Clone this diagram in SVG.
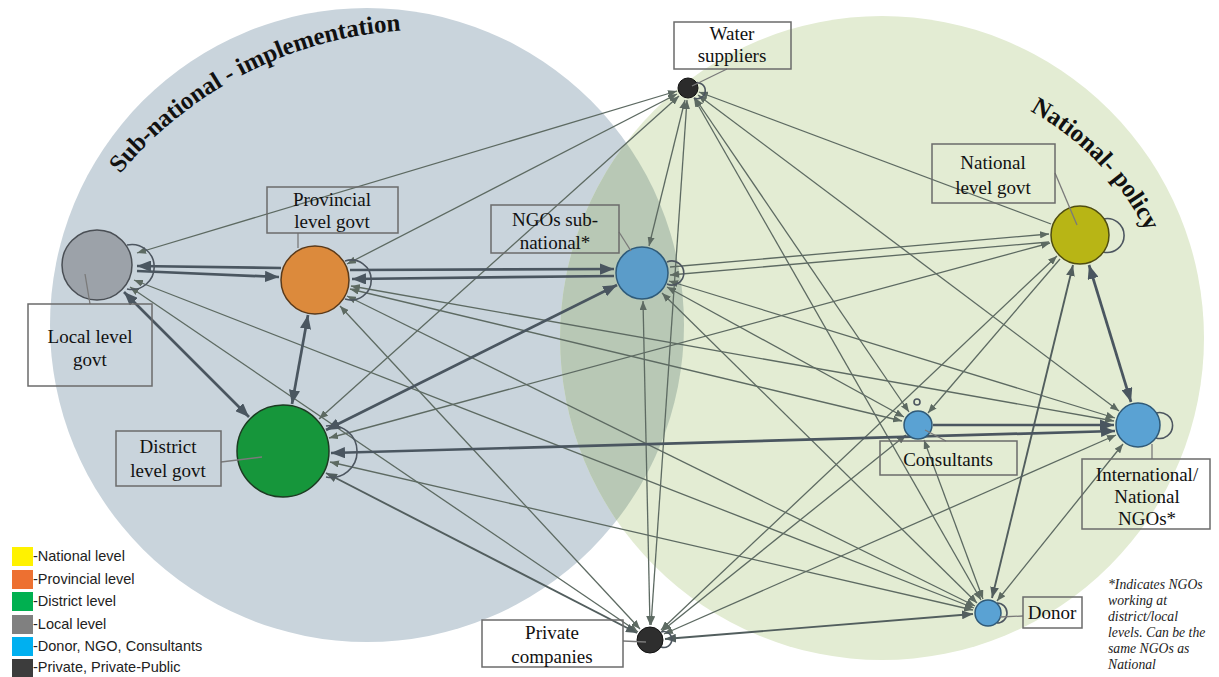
<svg xmlns="http://www.w3.org/2000/svg" width="1219" height="677" viewBox="0 0 1219 677">
  <style>
    .lbl { font-family: "Liberation Serif", "Times New Roman", serif; font-size: 19px; fill: #111; text-anchor: middle; }
    .box { fill: none; stroke: #6b6b6b; stroke-width: 1.5; }
    .lead { stroke: #7a7a7a; stroke-width: 1.3; fill: none; }
    .thin { stroke: #5d6a62; stroke-width: 1.3; fill: none; marker-end: url(#ah); }
    .thin.two { marker-start: url(#ah); }
    .mid { stroke: #525e5e; stroke-width: 1.9; fill: none; marker-end: url(#ahm); }
    .mid.two { marker-start: url(#ahm); }
    .thick { stroke: #4a5660; stroke-width: 2.7; fill: none; marker-end: url(#ahk); }
    .thick.two { marker-start: url(#ahk); }
    .loop { stroke: #4d5660; stroke-width: 1.6; fill: none; }
    .title { font-family: "Liberation Serif", "Times New Roman", serif; font-weight: bold; font-size: 25px; fill: #111; }
    .leg { font-family: "Liberation Sans", Arial, sans-serif; font-size: 14.5px; fill: #222; }
    .note { font-family: "Liberation Serif", "Times New Roman", serif; font-style: italic; font-size: 13.7px; fill: #222; }
  </style>
  <defs>
    <marker id="ah" viewBox="0 0 10 8" refX="10" refY="4" markerWidth="9" markerHeight="7.2" markerUnits="userSpaceOnUse" orient="auto-start-reverse">
      <path d="M0,0 L10,4 L0,8 z" fill="#5d6a62"/>
    </marker>
    <marker id="ahm" viewBox="0 0 10 8" refX="10" refY="4" markerWidth="11" markerHeight="8.8" markerUnits="userSpaceOnUse" orient="auto-start-reverse">
      <path d="M0,0 L10,4 L0,8 z" fill="#525e5e"/>
    </marker>
    <marker id="ahk" viewBox="0 0 10 8" refX="10" refY="4" markerWidth="14" markerHeight="11.2" markerUnits="userSpaceOnUse" orient="auto-start-reverse">
      <path d="M0,0 L10,4 L0,8 z" fill="#4a5660"/>
    </marker>
    <clipPath id="subClip">
      <circle cx="367" cy="325" r="317"/>
    </clipPath>
    <path id="arcSub" d="M120,174 A400,400 0 0 1 414,30"/>
    <path id="arcNat" d="M1030,111 A279,279 0 0 1 1150,240"/>
  </defs>

  <rect width="1219" height="677" fill="#ffffff"/>

  <!-- background zones -->
  <g id="zones">
    <circle cx="367" cy="325" r="317" fill="#c9d4dc"/>
    <circle cx="882" cy="338" r="322" fill="#e3ecd3"/>
    <circle cx="882" cy="338" r="322" fill="#b8c8b5" clip-path="url(#subClip)"/>
    <text class="title"><textPath href="#arcSub" textLength="324" lengthAdjust="spacing">Sub-national - implementation</textPath></text>
    <text class="title"><textPath href="#arcNat" textLength="170" lengthAdjust="spacing">National- policy</textPath></text>
  </g>

  <!-- connectors -->
  <g id="connectors">
    <path class="thin two" d="M677,91 L137,253"/>
    <path class="thin two" d="M677,94 L347,264"/>
    <path class="thin two" d="M679,96 L319,419"/>
    <path class="thin two" d="M685,100 L649,246"/>
    <path class="thin two" d="M687,100 L651,625"/>
    <path class="thin two" d="M643,301 L650,625"/>
    <path class="thin" d="M1051,224 L699,92"/>
    <path class="thin two" d="M698,95 L1119,411"/>
    <path class="thin two" d="M695,98 L909,412"/>
    <path class="thin two" d="M694,98 L981,600"/>
    <path class="thin" d="M670,267 L1049,234"/>
    <path class="thin" d="M1049,242 L670,275"/>
    <path class="thin two" d="M667,287 L904,417"/>
    <path class="thin two" d="M669,281 L1115,418"/>
    <path class="thin two" d="M662,293 L977,603"/>
    <path class="thin two" d="M351,286 L1114,421"/>
    <path class="thin two" d="M350,289 L902,421"/>
    <path class="thin two" d="M347,296 L975,606"/>
    <path class="thin two" d="M340,306 L640,629"/>
    <path class="thin two" d="M134,280 L974,608"/>
    <path class="thin two" d="M130,287 L638,632"/>
    <path class="thin two" d="M329,438 L1050,243"/>
    <path class="thin two" d="M330,462 L973,610"/>
    <path class="mid two" d="M326,473 L637,633"/>
    <path class="thin" d="M1060,259 L928,413"/>
    <path class="thin two" d="M1057,256 L661,630"/>
    <path class="thin two" d="M924,440 L983,599"/>
    <path class="thin two" d="M906,435 L662,631"/>
    <path class="thin two" d="M1123,444 L997,601"/>
    <path class="thin two" d="M1116,435 L664,634"/>
    <path class="mid two" d="M665,639 L973,614"/>
    <path class="mid two" d="M1073,265 L992,598"/>

    <path class="thick" d="M281,268 L137,266"/>
    <path class="thick" d="M137,271 L279,277"/>
    <path class="thick two" d="M124,292 L249,417"/>
    <path class="thick two" d="M308,315 L292,404"/>
    <path class="thick" d="M350,270 L614,269"/>
    <path class="thick" d="M614,276 L352,279"/>
    <path class="thick two" d="M326,430 L617,285"/>
    <path class="thick two" d="M331,453 L1115,431"/>
    <path class="thick" d="M933,425 L1114,425"/>
    <path class="thick two" d="M1089,265 L1131,402"/>
  </g>

  <!-- nodes -->
  <g id="node-local">
    <path class="loop" d="M127,245 A22.5,22.5 0 1 1 127,289"/>
    <circle cx="97" cy="265" r="35" fill="#9ca2a9" stroke="#4a4f55" stroke-width="1.5"/>
  </g>
  <g id="node-provincial">
    <path class="loop" d="M345,261 A20,20 0 1 1 345,299"/>
    <circle cx="315" cy="280" r="34" fill="#dc8a3c" stroke="#5a3a1a" stroke-width="1.5"/>
  </g>
  <g id="node-district">
    <path class="loop" d="M326,426 A26,26 0 1 1 326,477"/>
    <circle cx="283" cy="451" r="46" fill="#16963b" stroke="#1c3b22" stroke-width="1.5"/>
  </g>
  <g id="node-ngo-sub">
    <path class="loop" d="M667,262 A12,12 0 1 1 667,284"/>
    <circle cx="642" cy="273" r="26" fill="#5b9cc9" stroke="#2f5b7a" stroke-width="1.5"/>
  </g>
  <g id="node-water">
    <path class="loop" d="M695,83 A8,8 0 1 1 694,98"/>
    <circle cx="688" cy="88" r="10" fill="#2b2b2b" stroke="#111" stroke-width="1"/>
  </g>
  <g id="node-national">
    <path class="loop" d="M1103,219 A17,17 0 1 1 1103,252"/>
    <circle cx="1080" cy="235" r="29" fill="#b8b515" stroke="#4f4d10" stroke-width="1.5"/>
  </g>
  <g id="node-consultants">
    <circle cx="917" cy="402" r="3" class="loop" stroke-width="1.3"/>
    <circle cx="918" cy="425" r="14" fill="#5aa2d3" stroke="#305a78" stroke-width="1.5"/>
  </g>
  <g id="node-intl-ngo">
    <path class="loop" d="M1156,413 A13,13 0 1 1 1156,438"/>
    <circle cx="1138" cy="425" r="22" fill="#5aa2d3" stroke="#305a78" stroke-width="1.5"/>
  </g>
  <g id="node-donor">
    <path class="loop" d="M997,603 A10,10 0 1 1 997,623"/>
    <circle cx="988" cy="613" r="13" fill="#5aa2d3" stroke="#305a78" stroke-width="1.5"/>
  </g>
  <g id="node-private">
    <path class="loop" d="M661,632 A8,8 0 1 1 661,647"/>
    <circle cx="650" cy="640" r="13" fill="#2e2e2e" stroke="#111" stroke-width="1"/>
  </g>

  <!-- labels -->
  <g id="label-water">
    <line class="lead" x1="727" y1="69" x2="692" y2="86"/>
    <rect class="box" x="674" y="22" width="117" height="47"/>
    <text class="lbl" x="732" y="40">Water</text>
    <text class="lbl" x="732" y="62">suppliers</text>
  </g>
  <g id="label-provincial">
    <line class="lead" x1="298" y1="233" x2="298" y2="248"/>
    <rect class="box" x="267" y="187" width="131" height="46"/>
    <text class="lbl" x="332" y="206">Provincial</text>
    <text class="lbl" x="332" y="228">level govt</text>
  </g>
  <g id="label-local">
    <line class="lead" x1="85" y1="274" x2="90" y2="304"/>
    <rect class="box" x="28" y="304" width="124" height="82"/>
    <text class="lbl" x="90" y="343">Local level</text>
    <text class="lbl" x="90" y="366">govt</text>
  </g>
  <g id="label-ngo-sub">
    <line class="lead" x1="619" y1="232" x2="631" y2="251"/>
    <rect class="box" x="491" y="205" width="128" height="48"/>
    <text class="lbl" x="555" y="226">NGOs sub-</text>
    <text class="lbl" x="555" y="249">national*</text>
  </g>
  <g id="label-national">
    <line class="lead" x1="1055" y1="173" x2="1077" y2="225"/>
    <rect class="box" x="932" y="144" width="123" height="59"/>
    <text class="lbl" x="993" y="169">National</text>
    <text class="lbl" x="993" y="194">level govt</text>
  </g>
  <g id="label-district">
    <line class="lead" x1="221" y1="462" x2="262" y2="457"/>
    <rect class="box" x="116" y="431" width="105" height="55"/>
    <text class="lbl" x="168" y="453">District</text>
    <text class="lbl" x="168" y="477">level govt</text>
  </g>
  <g id="label-consultants">
    <line class="lead" x1="925" y1="430" x2="946" y2="441"/>
    <rect class="box" x="880" y="441" width="137" height="34"/>
    <text class="lbl" x="948" y="466">Consultants</text>
  </g>
  <g id="label-intl-ngo">
    <line class="lead" x1="1152" y1="444" x2="1152" y2="459"/>
    <rect class="box" x="1082" y="459" width="128" height="70"/>
    <text class="lbl" x="1147" y="481">International/</text>
    <text class="lbl" x="1147" y="503">National</text>
    <text class="lbl" x="1147" y="525">NGOs*</text>
  </g>
  <g id="label-donor">
    <line class="lead" x1="1000" y1="617" x2="1023" y2="616"/>
    <rect class="box" x="1023" y="597" width="59" height="31"/>
    <text class="lbl" x="1052" y="619">Donor</text>
  </g>
  <g id="label-private">
    <line class="lead" x1="623" y1="641" x2="646" y2="642"/>
    <rect class="box" x="482" y="620" width="141" height="47"/>
    <text class="lbl" x="552" y="639">Private</text>
    <text class="lbl" x="552" y="663">companies</text>
  </g>

  <!-- legend -->
  <g id="legend">
    <rect x="12" y="547" width="21" height="19" fill="#fff200"/>
    <rect x="12" y="570" width="21" height="19" fill="#ed7031"/>
    <rect x="12" y="592" width="21" height="19" fill="#00b050"/>
    <rect x="12" y="615" width="21" height="19" fill="#808080"/>
    <rect x="12" y="637" width="21" height="19" fill="#00b0f0"/>
    <rect x="12" y="659" width="21" height="18" fill="#3c3c3c"/>
    <text class="leg" x="33" y="561">-National level</text>
    <text class="leg" x="33" y="584">-Provincial level</text>
    <text class="leg" x="33" y="606">-District level</text>
    <text class="leg" x="33" y="629">-Local level</text>
    <text class="leg" x="33" y="651">-Donor, NGO, Consultants</text>
    <text class="leg" x="33" y="672">-Private, Private-Public</text>
  </g>

  <!-- footnote -->
  <g id="footnote">
    <text class="note" x="1108" y="589">*Indicates NGOs</text>
    <text class="note" x="1108" y="605">working at</text>
    <text class="note" x="1108" y="621">district/local</text>
    <text class="note" x="1108" y="637">levels. Can be the</text>
    <text class="note" x="1108" y="653">same NGOs as</text>
    <text class="note" x="1108" y="669">National</text>
  </g>
</svg>
